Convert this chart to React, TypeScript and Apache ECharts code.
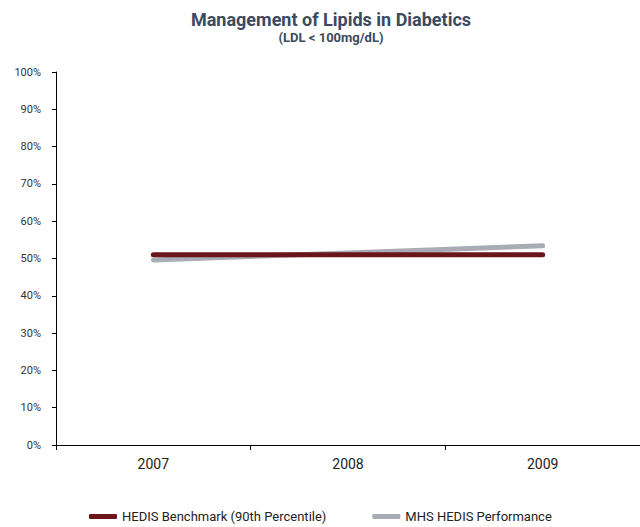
import React, { useEffect, useRef } from "react";
import * as echarts from "echarts";

const categories = ["2007", "2008", "2009"];
const benchmark = [51, 51, 51];
const performance = [49.6, 51.5, 53.4];
const seriesNames = ["HEDIS Benchmark (90th Percentile)", "MHS HEDIS Performance"];

const FONT = "Roboto, 'Liberation Sans', sans-serif";

export default function App() {
  const ref = useRef<HTMLDivElement>(null);
  useEffect(() => {
    const chart = echarts.init(ref.current!, null, { renderer: "svg" });
    chart.setOption({
      animation: false,
      backgroundColor: "#ffffff",
      title: {
        text: "Management of Lipids in Diabetics",
        subtext: "(LDL < 100mg/dL)",
        left: 326,
        textAlign: "center",
        top: 5,
        itemGap: 3,
        textStyle: { fontFamily: FONT, fontSize: 18, fontWeight: "bold", color: "#3b4a5e" },
        subtextStyle: { fontFamily: FONT, fontSize: 13, fontWeight: "bold", color: "#3b4a5e" },
      },
      legend: {
        top: 505,
        left: 84,
        itemWidth: 28,
        itemHeight: 5,
        itemGap: 46,
        icon: "roundRect",
        textStyle: { fontFamily: FONT, fontSize: 13, color: "#222" },
        data: seriesNames,
      },
      grid: { left: 56, right: 0, top: 72, bottom: 82, containLabel: false },
      xAxis: {
        type: "category",
        data: categories,
        boundaryGap: true,
        axisLine: { lineStyle: { color: "#000", width: 1 } },
        axisTick: { show: true, length: 5, lineStyle: { color: "#000" } },
        axisLabel: { fontFamily: FONT, fontSize: 14, color: "#222", margin: 12 },
      },
      yAxis: {
        type: "value",
        min: 0,
        max: 100,
        interval: 10,
        axisLine: { show: true, lineStyle: { color: "#000", width: 1 } },
        axisTick: { show: true, length: 4, lineStyle: { color: "#000" } },
        splitLine: { show: false },
        axisLabel: { formatter: "{value}%", fontFamily: FONT, fontSize: 11, color: "#333", margin: 15 },
      },
      series: [
        {
          name: seriesNames[1],
          type: "line",
          data: performance,
          symbol: "none",
          lineStyle: { color: "#a8acb5", width: 5, cap: "round" },
          itemStyle: { color: "#a8acb5" },
          z: 2,
        },
        {
          name: seriesNames[0],
          type: "line",
          data: benchmark,
          symbol: "none",
          lineStyle: { color: "#6b1419", width: 5, cap: "round" },
          itemStyle: { color: "#6b1419" },
          z: 3,
        },
      ],
    });
    return () => chart.dispose();
  }, []);
  return (
    <div
      ref={ref}
      style={{ position: "fixed", left: 0, top: 0, width: 640, height: 527 }}
    />
  );
}
